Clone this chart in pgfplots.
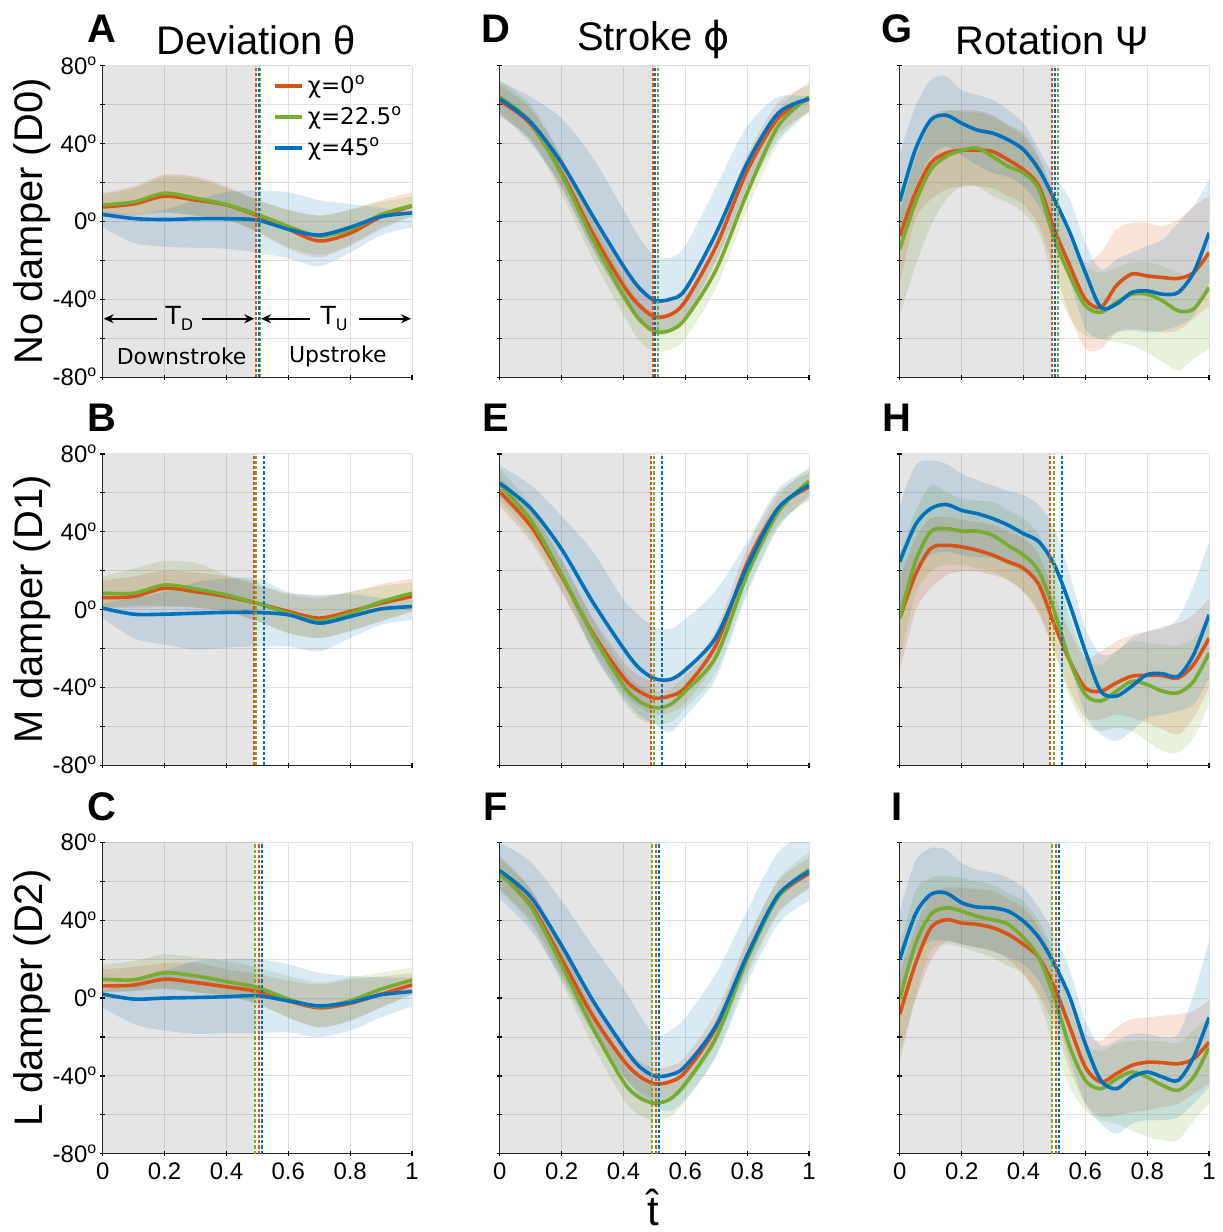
\documentclass[border=0pt]{standalone}
\usepackage{fontspec}
\setmainfont{Liberation Sans}
\newfontfamily\dejavu{DejaVu Sans}
\usepackage{pgfplots}
\pgfplotsset{compat=1.18}
\usepackage{pgfplotstable}
\usepgfplotslibrary{fillbetween}
\usetikzlibrary{arrows.meta}

\definecolor{cO}{rgb}{0.85,0.325,0.098}
\definecolor{cG}{rgb}{0.466,0.674,0.188}
\definecolor{cB}{rgb}{0,0.447,0.741}

% deviation theta
\pgfplotstableread{
x    o     ou    ol     g     gu    gl     b     bu    bl
0    7.5   14.7  2.5    8.5   14    3      3.6   5     -3
0.1  9     18    3      10    17    4      1.5   4     -11
0.2  13    24    4.5    14.5  23    5      1     6     -13
0.3  11    23    3      12    22    3      1.4   11    -13.5
0.4  8.5   18    1      8.7   17    1      1.4   15    -14
0.5  3     11    -5.5   3.6   11    -5     0.7   16    -16
0.6  -4    6     -14    -2.5  6     -13    -4    15    -19
0.7  -10   3     -18.5  -7.5  3     -17    -7    11    -23
0.8  -6    6     -12.5  -4    6     -12    -3    9     -16
0.9  2.5   11    -4     3.5   10    -3     2.5   7     -7
1    8     15    2.5    8.2   13    3      4.4   5     -3
}\tA
\pgfplotstableread{
x    o     ou    ol     g     gu    gl     b     bu    bl
0    6.1   15    0.7    8.4   17    1      0.7   3     -4.4
0.1  6.7   17    1      8.4   21    2      -2.4  6     -14.7
0.2  11    20    1.5    12.6  25    2      -2.4  9     -18
0.3  9.2   19    1      10.6  24    1      -1.9  14    -20.6
0.4  6.7   17    -1     7.5   18    -1     -1.5  16    -19.5
0.5  3.2   12.6  -6     3.2   13.5  -6     -1.5  16    -19
0.6  -1    8.4   -12    -1.9  7.5   -12    -2.7  9     -19
0.7  -4.4  7     -14.7  -6    5.8   -14.7  -7    7.5   -21.5
0.8  -1    9     -11    -1.9  9.2   -11    -3.6  8     -14.7
0.9  3.2   13    -6     4     12    -6     0.3   6     -7.8
1    6.7   16    -1     8.4   14    -1     1.5   5     -5.3
}\tB
\pgfplotstableread{
x    o     ou    ol     g     gu    gl     b     bu    bl
0    6.3   14.8  3      9.7   17.4  3      2     4     -4.8
0.1  6.7   16    3.5    9.4   19    4      -0.5  8     -13.3
0.2  9.7   18    4.6    13    22.5  5      0     14    -16.7
0.3  8     18    3      11.4  21    3      0.3   19    -18.4
0.4  5.8   14.8  1.2    8.5   19    1.2    0.7   20    -18
0.5  3.4   12.3  -3     5.5   15.7  -3     1.2   20    -18
0.6  -1.4  9     -10    -0.5  11.4  -10    -1.4  17.4  -17.6
0.7  -5    7     -15    -4.4  8     -15    -4    13    -20
0.8  -2.7  9.7   -11.6  -1.4  10.6  -11.6  -2.2  11.4  -16.7
0.9  2     11    -4.8   4.6   13    -4.8   1.7   10.6  -10
1    6.8   13    2      9.2   15.7  2      3.4   10.6  -4.4
}\tC

% stroke phi
\pgfplotstableread{
x     o      ou     ol     g      gu     gl     b      bu     bl
0     62     70     54     64     72     55     63     72     55.6
0.1   50     58     42     51     60     42     51     64     40
0.2   25     33     17     24     33     14     30     53     18
0.3   -6     2      -14    -9     0      -19    3      33     -14
0.4   -33    -25    -41    -38    -29    -48    -23    6      -40
0.45  -43    -35    -52    -50    -41    -61    -34    -8     -50
0.5   -49    -40    -58    -56.5  -47    -67    -40.5  -17.7  -57
0.55  -48    -39    -57    -56    -47    -66    -40    -18.6  -57
0.6   -41    -33    -50    -50    -41    -60    -35    -12.6  -50
0.7   -12.6  -5     -21    -24.6  -16    -34    -5.8   18     -19.5
0.8   26     34     18     14.7   23     6      30     49     14.7
0.9   53     61     45     49     57     40     55.6   64     42
1     63     70     56     64     72     56     63     64     57
}\tD
\pgfplotstableread{
x     o      ou     ol     g      gu     gl     b      bu     bl
0     60.5   68     53     64     72     56     65     74     58
0.1   43     51     35     46     54     38     52     64     42
0.2   17     25     9      18     26     10     31     48     17
0.3   -12    -4     -20    -13    -5     -21    4      30     -22
0.4   -35    -27    -43    -39    -31    -47    -20    5      -45
0.45  -42    -34    -50    -47    -39    -56    -30    -3     -54
0.5   -45.5  -37    -54    -50.5  -42    -59    -35.5  -9     -59
0.55  -44.5  -36    -53    -49    -41    -58    -36    -10    -63
0.6   -40    -32    -48    -42    -34    -51    -31    -5     -55
0.7   -18    -10    -26    -24    -16    -32    -14    10     -35
0.8   24     32     16     18     26     10     22     35     8
0.9   52     60     44     50     58     42     52     62     42
1     63     70     56     66     73     58     64     72     58
}\tE
\pgfplotstableread{
x     o      ou     ol     g      gu     gl     b      bu     bl
0     64     72     56     64     73     55     65.5   80     51
0.1   48     56     40     47     56     38     52     70     35
0.2   20     28     12     17     26     8      27     50     10
0.3   -9     -1     -17    -15    -6     -24    -1     27     -18
0.4   -32    -24    -40    -43    -34    -52    -25    5      -40
0.45  -40    -32    -48    -51    -42    -60    -35    -8     -50
0.5   -44    -36    -52    -54    -45    -63    -40    -19    -56
0.55  -43    -35    -51    -52    -43    -61    -39.5  -17    -58
0.6   -38    -30    -46    -44    -35    -53    -35    -10    -52
0.7   -15    -7     -23    -20    -11    -29    -14    13     -30
0.8   22     30     14     20     29     11     22     45     8
0.9   52     60     44     52     61     43     53     75     38
1     64     72     56     66     75     57     65     85     50
}\tF

% rotation psi
\pgfplotstableread{
x     o      ou     ol     g      gu     gl     b      bu     bl
0     -7.5   4.4    -31.4  -14.3  13     -48.5  10.4   35     -5.8
0.05  14.7   31.7   1      9.6    38.5   -22.9  36.9   59     18
0.1   30     50.5   11.3   26.6   53.9   -2.4   52.2   72.7   33.4
0.15  35.2   56.5   16.4   33.4   57.3   11.3   54.6   74.4   38.6
0.2   36.6   57.3   18     36.5   56.4   18     50.5   67.5   34
0.25  36.6   57     18     37.7   56     18     47     65     29
0.3   36     54.7   17     33.4   54     13     45.4   62.5   25
0.35  31.7   49.6   13     28.3   48.8   9.6    42     57.3   23
0.4   26.6   45.4   8.7    24.9   43.7   4.4    36.9   50.5   18
0.45  18     33.4   -2.4   16.4   31.7   -5.8   26.6   36.9   7.8
0.5   -4.1   13     -24.6  -9.2   11.3   -31.4  11.3   23     -9.2
0.55  -22.9  -9.2   -48.5  -28    -9.2   -50    -5.8   11.3   -31
0.6   -40    -21    -65.5  -43.3  -22.9  -58.7  -26.3  -11    -55
0.65  -44.2  -16    -65.5  -46.7  -26.3  -60.4  -44.2  -24.6  -60.4
0.7   -33    -4.1   -57    -41.6  -24    -62    -42.5  -19.5  -57
0.75  -27    -0.7   -55.3  -37.4  -21    -63.8  -36.5  -16    -56
0.8   -28    -0.7   -56    -37.4  -21    -67.2  -35.7  -12.6  -57
0.85  -28.8  -2.4   -57    -40.8  -23    -72.3  -37.4  -9.2   -56
0.9   -29.3  1      -56    -45.9  -26.3  -76.6  -36.5  -0.7   -53.6
0.95  -26.3  7.8    -50    -45    -28    -70.6  -26.3  7.8    -48.5
1     -16    13     -43.3  -33.9  -16    -65.5  -5.8   21.5   -31.4
}\tG
\pgfplotstableread{
x     o      ou     ol     g      gu     gl     b      bu     bl
0     -4.4   16     -31.7  -4.4   28     -24.9  24.6   53.6   -1
0.05  17.7   36.5   -1     24.6   50.2   7.5    43.4   74     19.5
0.1   31.4   46.8   10.9   40     63.8   19.5   51.9   76.6   28
0.15  33     47.6   17.7   41.6   60.4   22.9   54     74.9   29.7
0.2   32.2   46     19.5   40.3   57     22.9   51     69.8   28
0.25  30.5   45     19.5   40.3   56     21     49.3   66.5   27
0.3   28     43.4   17.7   38.2   55.3   19.5   46.8   63.8   26.3
0.35  24.6   40     15.2   33     51     15     43.4   61     23
0.4   21.2   36.5   9.2    28     46.8   9.2    39     58.7   19.5
0.45  12.6   28     -2.7   19.5   38.2   -1     34.8   53.6   12.6
0.5   -7.8   7.5    -21.5  -1     19.5   -21.5  22.9   41.6   -2.7
0.55  -26.6  -11.3  -42    -26.6  -4.4   -45.4  2.4    17.7   -28.3
0.6   -40.3  -24.9  -55.6  -43.7  -24.9  -59    -21.5  -9.6   -54
0.65  -42    -21.5  -56.5  -47    -28.3  -62.5  -42    -23    -64.2
0.7   -37.7  -16.4  -54    -42    -21.5  -60.8  -44.5  -21.5  -67.6
0.75  -34.3  -13    -55.6  -36.9  -16.4  -62.5  -39.4  -14.7  -62.5
0.8   -33.8  -11.3  -58.2  -38.6  -17    -67.6  -33.4  -11.3  -55.6
0.85  -34    -8.7   -61.6  -42    -18    -72.7  -33    -9.6   -54
0.9   -35.2  -7     -64.2  -42.8  -18.5  -73.5  -34.3  -4.4   -52.2
0.95  -28.3  -2.7   -55.6  -36.9  -14.7  -65.9  -23.2  12.6   -48.8
1     -14.7  5.8    -40.3  -22.4  -2.7   -48.8  -2.7   34.8   -35.2
}\tH
\pgfplotstableread{
x     o      ou     ol     g      gu     gl     b      bu     bl
0     -8.2   12.3   -28.7  -0.5   26     -33.8  20     44.7   -1.4
0.05  17.4   36.2   -1.4   27.6   55     0.3    43     70.3   22.5
0.1   36     53.3   19     43     61.8   24.2   53.3   77.1   29.4
0.15  40.3   56.7   29.4   46.4   62.6   27.7   54     76.2   29.4
0.2   38.6   56.7   27.7   44.7   61.8   26     49     69.4   27.7
0.25  37.9   56     26     42     60     23.5   46.8   66     26
0.3   36.2   55     24.2   40.3   58.4   20.8   46.4   64.4   24.2
0.35  32.8   51     20     38     54     16.5   44.7   61.8   21
0.4   27.6   46.4   12.3   31     49.8   12.3   39.5   56.7   17.4
0.45  20.8   36.2   2      20.8   39.6   -1.4   31     46.4   8.9
0.5   5.5    19.1   -15    0.3    22.5   -25.3  17.4   32.8   -8.2
0.55  -15    -3     -37.2  -25.3  -4.8   -45.8  0.3    14     -32.1
0.6   -35.5  -18.4  -54.3  -42.3  -23.5  -57.7  -23.6  -11.6  -54.3
0.65  -43.2  -21.8  -61.1  -46.6  -27    -62.8  -42.3  -24.4  -64.6
0.7   -38.9  -15    -60.5  -41.5  -23.5  -64.6  -46.6  -21.8  -69.7
0.75  -34.6  -10.8  -58.6  -38    -21.8  -68    -40.6  -18.4  -64.6
0.8   -33    -9.9   -57.7  -40.6  -21.8  -71.4  -38    -18.4  -62.8
0.85  -33.2  -9     -56    -44.9  -22.5  -73    -40.6  -20.1  -62.8
0.9   -33.8  -8.2   -54.3  -47.4  -23    -73    -42.3  -18.4  -61.1
0.95  -31.2  -6.5   -49.2  -40.6  -16.7  -62.8  -30.4  2      -54.3
1     -22.7  -1.4   -44.1  -25.3  -9.9   -54.3  -9.9   29.4   -45.8
}\tI

\tikzset{vdash/.style={line width=1pt, dash pattern=on 1.6pt off 1pt}}
\pgfplotsset{
  pan/.style={
    scale only axis, width=155pt, height=156pt, anchor=north west,
    xmin=0, xmax=1, ymin=-80, ymax=80,
    axis lines=left, axis line style={-, line width=0.6pt, black!85},
    xtick={0,0.2,0.4,0.6,0.8,1}, ytick={-80,-60,-40,-20,0,20,40,60,80},
    grid=major, grid style={black!12, line width=0.5pt},
    major tick length=2.5pt, tick style={black, line width=0.6pt},
    xticklabels={}, yticklabels={},
    xticklabel style={font=\fontsize{12}{12}\selectfont},
    yticklabel style={font=\fontsize{12}{12}\selectfont, xshift=2pt},
  },
  ylab/.style={yticklabels={-80\textsuperscript{o},,-40\textsuperscript{o},,0\textsuperscript{o},,40\textsuperscript{o},,80\textsuperscript{o}}},
  xlab/.style={xticklabels={0,0.2,0.4,0.6,0.8,1}},
}

\newcommand{\panelplots}[6]{%
  \addplot[draw=none, fill=black, fill opacity=0.1, forget plot] coordinates {(0,-80) (#3,-80) (#3,80) (0,80)} -- cycle;
  \addplot[draw=none, smooth, name path=#2ou, forget plot] table[x=x,y=ou]{#1};
  \addplot[draw=none, smooth, name path=#2ol, forget plot] table[x=x,y=ol]{#1};
  \addplot[fill=cO, fill opacity=0.17, draw=none, forget plot] fill between[of=#2ou and #2ol];
  \addplot[draw=none, smooth, name path=#2gu, forget plot] table[x=x,y=gu]{#1};
  \addplot[draw=none, smooth, name path=#2gl, forget plot] table[x=x,y=gl]{#1};
  \addplot[fill=cG, fill opacity=0.17, draw=none, forget plot] fill between[of=#2gu and #2gl];
  \addplot[draw=none, smooth, name path=#2bu, forget plot] table[x=x,y=bu]{#1};
  \addplot[draw=none, smooth, name path=#2bl, forget plot] table[x=x,y=bl]{#1};
  \addplot[fill=cB, fill opacity=0.15, draw=none, forget plot] fill between[of=#2bu and #2bl];
  \addplot[cO, line width=1.8pt, smooth] table[x=x,y=o]{#1};
  \addplot[cG, line width=1.8pt, smooth] table[x=x,y=g]{#1};
  \addplot[cB, line width=1.8pt, smooth] table[x=x,y=b]{#1};
  \addplot[cO, vdash, forget plot] coordinates {(#4,-80) (#4,80)};
  \addplot[cG, vdash, forget plot] coordinates {(#5,-80) (#5,80)};
  \addplot[cB, vdash, forget plot] coordinates {(#6,-80) (#6,80)};
}

\begin{document}
\begin{tikzpicture}
\path (0,0) rectangle (609.5pt,-616pt);

% row 1
\begin{axis}[pan, ylab, at={(51.5pt,-33pt)},
  legend style={draw=none, fill=none, at={(rel axis cs:0.55,0.995)}, anchor=north west,
    font=\dejavu\fontsize{11.5}{13}\selectfont, row sep=1.2pt, inner xsep=0pt},
  legend cell align=left,
  legend image code/.code={\draw[#1, line width=1.8pt] (0pt,0pt) -- (13.5pt,0pt);}]
\panelplots{\tA}{A}{0.494}{0.494}{0.510}{0.504}
\legend{χ=0\textsuperscript{o}, χ=22.5\textsuperscript{o}, χ=45\textsuperscript{o}}
\draw[-{Stealth[length=5pt,width=4.5pt]}, line width=0.8pt] (axis cs:0.175,-50) -- (axis cs:0.003,-50);
\draw[-{Stealth[length=5pt,width=4.5pt]}, line width=0.8pt] (axis cs:0.32,-50) -- (axis cs:0.49,-50);
\draw[-{Stealth[length=5pt,width=4.5pt]}, line width=0.8pt] (axis cs:0.67,-50) -- (axis cs:0.512,-50);
\draw[-{Stealth[length=5pt,width=4.5pt]}, line width=0.8pt] (axis cs:0.83,-50) -- (axis cs:0.997,-50);
\node[font=\dejavu\fontsize{12.5}{12.5}\selectfont] at (axis cs:0.248,-50) {T\raisebox{-0.45ex}{\fontsize{8}{8}\selectfont D}};
\node[font=\dejavu\fontsize{12.5}{12.5}\selectfont] at (axis cs:0.748,-50) {T\raisebox{-0.45ex}{\fontsize{8}{8}\selectfont U}};
\node[font=\dejavu\fontsize{11}{11}\selectfont] at (axis cs:0.255,-69.5) {Downstroke};
\node[font=\dejavu\fontsize{11}{11}\selectfont] at (axis cs:0.76,-69.5) {Upstroke};
\end{axis}
\begin{axis}[pan, at={(250.5pt,-33pt)}]
\panelplots{\tD}{D}{0.494}{0.494}{0.512}{0.501}
\end{axis}
\begin{axis}[pan, at={(451pt,-33pt)}]
\panelplots{\tG}{G}{0.492}{0.492}{0.512}{0.501}
\end{axis}

% row 2
\begin{axis}[pan, ylab, at={(51.5pt,-227.5pt)}]
\panelplots{\tB}{B}{0.488}{0.488}{0.497}{0.523}
\end{axis}
\begin{axis}[pan, at={(250.5pt,-227.5pt)}]
\panelplots{\tE}{E}{0.488}{0.488}{0.499}{0.524}
\end{axis}
\begin{axis}[pan, at={(451pt,-227.5pt)}]
\panelplots{\tH}{H}{0.487}{0.487}{0.498}{0.523}
\end{axis}

% row 3
\begin{axis}[pan, ylab, xlab, at={(51.5pt,-422.25pt)}]
\panelplots{\tC}{C}{0.493}{0.505}{0.493}{0.514}
\end{axis}
\begin{axis}[pan, xlab, at={(250.5pt,-422.25pt)}]
\panelplots{\tF}{F}{0.491}{0.504}{0.491}{0.515}
\end{axis}
\begin{axis}[pan, xlab, at={(451pt,-422.25pt)}]
\panelplots{\tI}{I}{0.492}{0.504}{0.492}{0.515}
\end{axis}

% titles, panel letters, row labels
\node[font=\fontsize{20}{20}\selectfont] at (128.5pt,-20pt) {Deviation θ};
\node[font=\fontsize{20}{20}\selectfont] at (327.5pt,-20pt) {Stroke {\dejavu ϕ}};
\node[font=\fontsize{20}{20}\selectfont] at (527.5pt,-20pt) {Rotation Ψ};
\foreach \l/\x/\y in {A/51/-14.5, D/248.5/-14.5, G/449.5/-14.5, B/51/-209.5, E/248.5/-209.5, H/449.5/-209.5, C/51/-404.5, F/248.5/-404.5, I/449.5/-404.5}
  \node[font=\bfseries\fontsize{20}{20}\selectfont] at (\x pt,\y pt) {\l};
\node[rotate=90, font=\fontsize{20}{20}\selectfont] at (16pt,-111pt) {No damper (D0)};
\node[rotate=90, font=\fontsize{20}{20}\selectfont] at (16pt,-305.5pt) {M damper (D1)};
\node[rotate=90, font=\fontsize{20}{20}\selectfont] at (16pt,-500.25pt) {L damper (D2)};
\node[font=\fontsize{21}{21}\selectfont] at (327.5pt,-605pt) {\^{t}};
\end{tikzpicture}
\end{document}
